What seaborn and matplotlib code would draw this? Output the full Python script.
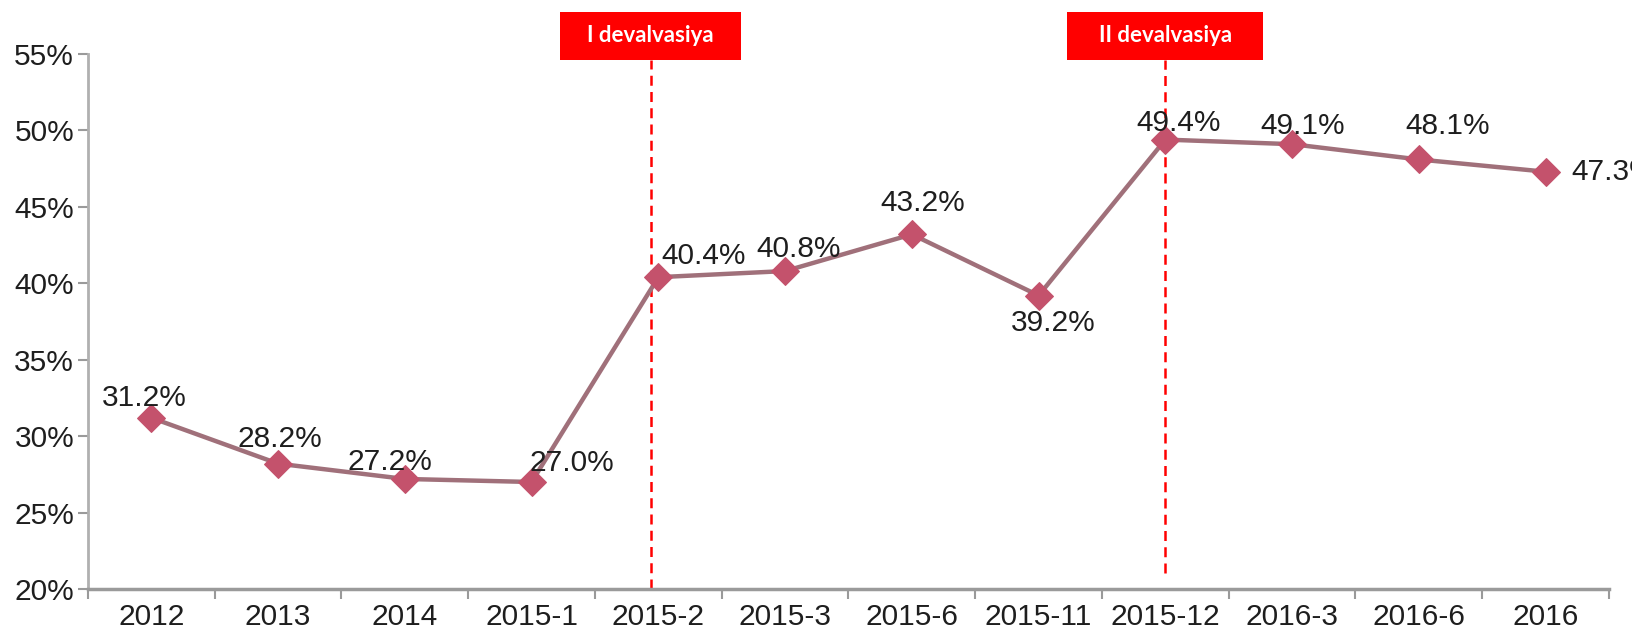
import matplotlib
matplotlib.use("Agg")
import matplotlib.pyplot as plt
from matplotlib.patches import Rectangle
import seaborn as sns
import numpy as np
import pandas as pd

# ---------------- data ----------------
periods = ["2012", "2013", "2014", "2015-1", "2015-2", "2015-3", "2015-6",
           "2015-11", "2015-12", "2016-3", "2016-6", "2016"]
share = [31.2, 28.2, 27.2, 27.0, 40.4, 40.8, 43.2, 39.2, 49.4, 49.1, 48.1, 47.3]
y_ticks = [20, 25, 30, 35, 40, 45, 50, 55]
event_labels = ["I devalvasiya", "II devalvasiya"]

# ---------------- layout / style ----------------
W, H = 1633, 633
event_pos = [3.94, 8.0]          # x position (category units) of the dashed lines
event_box_w = [181, 196]         # box widths in pixels
box_top_px, box_bot_px = 12, 60  # box top / bottom in pixels from top
# label offsets (pixels) of text centre relative to the marker
label_off = [(-7, 20), (2, 25), (-15, 17), (40, 19), (45, 21), (14, 22),
             (11, 31), (15, -27), (13, 17), (11, 18), (29, 33), (68, 0)]

line_col = "#A0707A"
marker_col = "#C4526C"
spine_col = "#9A9A9A"
text_col = "#1E1E1E"
red = "#FF0000"

sns.set_style("white")
plt.rcParams["font.family"] = ["Liberation Sans", "DejaVu Sans"]

fig = plt.figure(figsize=(W / 100, H / 100), dpi=100)
ax_l, ax_r, ax_t, ax_b = 88, 1609, 54, 589
ax = fig.add_axes([ax_l / W, (H - ax_b) / H, (ax_r - ax_l) / W, (ax_b - ax_t) / H])

df = pd.DataFrame({"x": np.arange(len(periods)), "share": share})
sns.lineplot(data=df, x="x", y="share", ax=ax, color=line_col, linewidth=3.2,
             marker="D", markersize=14, markerfacecolor=marker_col,
             markeredgecolor=marker_col, sort=False, zorder=3)

ax.set_xlim(-0.5, len(periods) - 0.5)
ax.set_ylim(y_ticks[0], y_ticks[-1])
ax.set_xlabel("")
ax.set_ylabel("")

# y axis
ax.set_yticks(y_ticks)
ax.set_yticklabels([f"{v}%" for v in y_ticks])
ax.tick_params(axis="y", which="major", left=True, length=7, width=1.5,
               color=spine_col, pad=3, labelsize=21.5, labelcolor=text_col)

# x axis: ticks at category boundaries, labels at centres
ax.set_xticks(np.arange(len(periods) + 1) - 0.5)
ax.set_xticklabels([])
ax.set_xticks(np.arange(len(periods)), minor=True)
ax.set_xticklabels(periods, minor=True)
ax.tick_params(axis="x", which="major", bottom=True, length=7, width=1.5,
               color=spine_col)
ax.tick_params(axis="x", which="minor", bottom=True, length=0, pad=10,
               labelsize=21.5, labelcolor=text_col)

for side in ["top", "right"]:
    ax.spines[side].set_visible(False)
ax.spines["left"].set_color("#B0B0B0")
ax.spines["left"].set_linewidth(2)
ax.spines["bottom"].set_color(spine_col)
ax.spines["bottom"].set_linewidth(2.5)
ax.grid(False)

# data labels
for i, v in enumerate(share):
    dx, dy = label_off[i]
    ax.annotate(f"{v:.1f}%", xy=(i, v), xytext=(dx, dy), textcoords="offset pixels",
                ha="center", va="center", fontsize=21.5, color=text_col,
                zorder=4, annotation_clip=False)

# event lines and boxes
ymax_frac = (ax_b - box_bot_px) / (ax_b - ax_t)
for k, (xpos, lab) in enumerate(zip(event_pos, event_labels)):
    ax.axvline(xpos, ymin=0 if k == 0 else 0.03, ymax=ymax_frac, color=red,
               linewidth=1.8, linestyle=(0, (4, 2.5)), clip_on=False, zorder=2)
    fig.canvas.draw()
    px = ax.transData.transform((xpos, y_ticks[0]))[0]
    bw = event_box_w[k]
    rect = Rectangle(((px - bw / 2) / W, (H - box_bot_px) / H), bw / W,
                     (box_bot_px - box_top_px) / H, transform=fig.transFigure,
                     facecolor=red, edgecolor="none", zorder=5)
    fig.patches.append(rect)
    fig.text(px / W, (H - (box_top_px + box_bot_px) / 2) / H, lab,
             ha="center", va="center", color="white", fontsize=16,
             fontweight="bold", family=["Lato", "DejaVu Sans"], zorder=6)

fig.savefig("out.png", dpi=100)
